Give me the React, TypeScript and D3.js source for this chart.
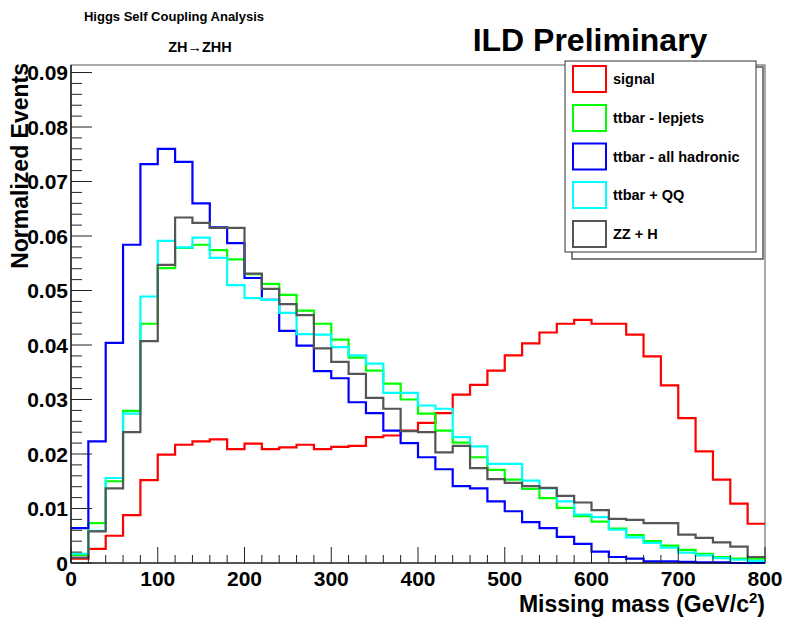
import React from 'react';
import * as d3 from 'd3';

const binWidth = 20;
const xDomain = [0, 800];
const yDomain = [0, 0.09138];
const xTickValues = [0, 100, 200, 300, 400, 500, 600, 700, 800];
const yTickValues = [0, 0.01, 0.02, 0.03, 0.04, 0.05, 0.06, 0.07, 0.08, 0.09];
const yTickLabels = ['0', '0.01', '0.02', '0.03', '0.04', '0.05', '0.06', '0.07', '0.08', '0.09'];

const signal = [
  0.0008, 0.0026, 0.0050, 0.0088, 0.0152, 0.0199, 0.0217, 0.0223, 0.0227, 0.0209,
  0.0219, 0.0209, 0.0212, 0.0217, 0.0209, 0.0213, 0.0215, 0.0231, 0.0234, 0.0243,
  0.0257, 0.0275, 0.0309, 0.0327, 0.0353, 0.0381, 0.0403, 0.0423, 0.0439, 0.0446,
  0.0439, 0.0439, 0.0419, 0.0379, 0.0326, 0.0266, 0.0205, 0.0153, 0.0109, 0.0072,
];
const lepjets = [
  0.0015, 0.0073, 0.0150, 0.0279, 0.0439, 0.0541, 0.0578, 0.0584, 0.0574, 0.0557,
  0.0530, 0.0512, 0.0492, 0.0463, 0.0439, 0.0410, 0.0377, 0.0353, 0.0329, 0.0300,
  0.0274, 0.0243, 0.0221, 0.0194, 0.0171, 0.0153, 0.0136, 0.0119, 0.0101, 0.0086,
  0.0076, 0.0063, 0.0051, 0.0040, 0.0032, 0.0024, 0.0017, 0.0011, 0.0008, 0.0008,
];
const allHadronic = [
  0.0064, 0.0223, 0.0404, 0.0584, 0.0732, 0.0760, 0.0736, 0.0660, 0.0616, 0.0587,
  0.0523, 0.0483, 0.0426, 0.0399, 0.0352, 0.0339, 0.0295, 0.0275, 0.0243, 0.0220,
  0.0194, 0.0172, 0.0141, 0.0137, 0.0113, 0.0095, 0.0075, 0.0064, 0.0048, 0.0035,
  0.0021, 0.0011, 0.0008, 0.0003, 0.0003, 0.0002, 0.0001, 0.0001, 0.0000, 0.0000,
];
const ttbarQQ = [
  0.0017, 0.0059, 0.0156, 0.0274, 0.0489, 0.0591, 0.0579, 0.0597, 0.0560, 0.0510,
  0.0486, 0.0483, 0.0459, 0.0420, 0.0419, 0.0396, 0.0381, 0.0366, 0.0312, 0.0312,
  0.0289, 0.0283, 0.0231, 0.0214, 0.0182, 0.0182, 0.0151, 0.0137, 0.0113, 0.0089,
  0.0084, 0.0061, 0.0047, 0.0037, 0.0028, 0.0019, 0.0014, 0.0009, 0.0006, 0.0004,
];
const zzH = [
  0.0010, 0.0058, 0.0137, 0.0240, 0.0407, 0.0547, 0.0634, 0.0624, 0.0615, 0.0615,
  0.0531, 0.0503, 0.0475, 0.0455, 0.0394, 0.0369, 0.0347, 0.0303, 0.0283, 0.0242,
  0.0240, 0.0203, 0.0215, 0.0174, 0.0154, 0.0147, 0.0141, 0.0138, 0.0123, 0.0111,
  0.0097, 0.0081, 0.0079, 0.0073, 0.0073, 0.0052, 0.0046, 0.0038, 0.0030, 0.0011,
];

const seriesNames = ['signal', 'ttbar - lepjets', 'ttbar - all hadronic', 'ttbar + QQ', 'ZZ + H'];
const seriesColors = ['#ff0000', '#00ff00', '#0000ff', '#00ffff', '#555555'];
const seriesValues = [signal, lepjets, allHadronic, ttbarQQ, zzH];

const W = 786;
const H = 618;
const left = 71;
const right = 765;
const top = 65;
const bottom = 563;

export default function App() {
  const x = d3.scaleLinear().domain(xDomain).range([left, right]);
  const y = d3.scaleLinear().domain(yDomain).range([bottom, top]);

  const line = d3
    .line<[number, number]>()
    .x((d) => x(d[0]))
    .y((d) => y(d[1]))
    .curve(d3.curveStepAfter);

  const pathFor = (vals: number[]) => {
    const pts: [number, number][] = vals.map((v, i) => [i * binWidth, v]);
    pts.push([vals.length * binWidth, vals[vals.length - 1]]);
    return line(pts) || '';
  };

  const xMinor = d3.range(xDomain[0], xDomain[1] + 1, binWidth);
  const yMinor = d3.range(0, 0.0911, 0.002);

  const font = '"Liberation Sans", Arial, Helvetica, sans-serif';
  const legendY = [79, 118, 156.5, 195, 234];

  return (
    <svg
      width={W}
      height={H}
      style={{ position: 'absolute', left: 0, top: 0, background: '#fff' }}
      fontFamily={font}
    >
      <rect x={0} y={0} width={W} height={H} fill="#fff" />
      {/* frame */}
      <rect x={left} y={top} width={right - left} height={bottom - top} fill="none" stroke="#555" strokeWidth={1} />

      {/* histograms */}
      {seriesValues.map((vals, i) => (
        <path key={i} d={pathFor(vals)} fill="none" stroke={seriesColors[i]} strokeWidth={2.2} />
      ))}

      {/* axes */}
      <line x1={left} y1={top} x2={left} y2={bottom} stroke="#000" strokeWidth={1.2} />
      <line x1={left} y1={bottom} x2={right} y2={bottom} stroke="#000" strokeWidth={1.2} />

      {xMinor.map((v) => {
        const major = v % 100 === 0;
        return (
          <line key={'xt' + v} x1={x(v)} x2={x(v)} y1={bottom} y2={bottom - (major ? 16 : 8)} stroke="#222" strokeWidth={1} />
        );
      })}
      {yMinor.map((v, i) => {
        const major = i % 5 === 0;
        return (
          <line key={'yt' + i} x1={left} x2={left + (major ? 21 : 11)} y1={y(v)} y2={y(v)} stroke="#222" strokeWidth={1} />
        );
      })}

      {xTickValues.map((v) => (
        <text key={'xl' + v} x={x(v)} y={586} textAnchor="middle" fontSize={21} fontWeight="bold" fill="#000">
          {v}
        </text>
      ))}
      {yTickValues.map((v, i) => (
        <text key={'yl' + i} x={68} y={y(v) + 7.5} textAnchor="end" fontSize={21} fontWeight="bold" fill="#000">
          {yTickLabels[i]}
        </text>
      ))}

      {/* axis titles */}
      <text x={765} y={612} textAnchor="end" fontSize={23} fontWeight="bold" fill="#000">
        Missing mass (GeV/c<tspan dy={-9} fontSize={15}>2</tspan><tspan dy={9}>)</tspan>
      </text>
      <text
        transform={`translate(28, ${top - 2}) rotate(-90)`}
        textAnchor="end"
        fontSize={23}
        fontWeight="bold"
        fill="#000"
      >
        Normalized Events
      </text>

      {/* titles */}
      <text x={174} y={21} textAnchor="middle" fontSize={13} fontWeight="bold" fill="#000">
        Higgs Self Coupling Analysis
      </text>
      <text x={200} y={52} textAnchor="middle" fontSize={14.5} fontWeight="bold" fill="#000">
        ZH→ZHH
      </text>
      <text x={590} y={51} textAnchor="middle" fontSize={32} fontWeight="bold" fill="#000">
        ILD Preliminary
      </text>

      {/* legend */}
      <polyline points="756,67 763,67 763,259 572,259 572,252" fill="none" stroke="#555" strokeWidth={1.5} />
      <rect x={565} y={61} width={191} height={191} fill="#fff" stroke="#333" strokeWidth={1} />
      {seriesNames.map((n, i) => (
        <g key={'lg' + i}>
          <rect x={573} y={legendY[i] - 13} width={33} height={26} fill="none" stroke={seriesColors[i]} strokeWidth={2} />
          <text x={613} y={legendY[i] + 5} fontSize={14.5} fontWeight="bold" fill="#000">
            {n}
          </text>
        </g>
      ))}
    </svg>
  );
}
